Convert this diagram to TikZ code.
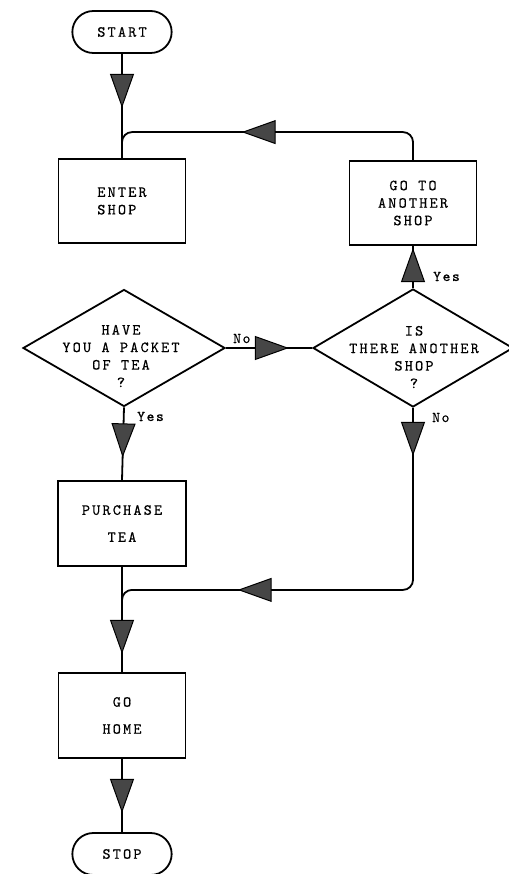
\documentclass[tikz,border=0pt]{standalone}
\usepackage{fontspec}
\usepackage{tikz}
\usetikzlibrary{arrows.meta,shapes.geometric,shapes.misc,decorations.markings}
\newfontfamily\flowfont[LetterSpace=14, FakeBold=0.4]{lmmono10-regular.otf}
\newfontfamily\answerfont[LetterSpace=10, FakeBold=0.4]{lmmono10-regular.otf}
\definecolor{tipgray}{RGB}{70,70,70}
\tikzstyle{flow} = [line width=1.8pt, color=black]
\tikzstyle{terminal} = [rounded rectangle, minimum width=106pt, minimum height=42pt, draw, line width=1.8pt, font=\flowfont\fontsize{15.5}{17.5}\selectfont]
\tikzstyle{process} = [rectangle, minimum width=127pt, minimum height=84pt, draw, line width=1.8pt, align=center, font=\flowfont\fontsize{15.5}{17.5}\selectfont]
\tikzstyle{decision} = [diamond, minimum width=202pt, minimum height=117pt, inner sep=0pt, draw, line width=1.8pt]
\tikzstyle{question} = [align=center, inner sep=0pt, font=\flowfont\fontsize{15.5}{17.5}\selectfont]
\tikzstyle{answer} = [anchor=base west, inner sep=0pt, font=\answerfont\fontsize{15}{15}\selectfont]
\tikzset{tipat/.style={postaction={decorate, decoration={markings, mark=at position #1 with {\arrow{Triangle[length=34pt, width=24pt, fill=tipgray, line width=1pt]}}}}}}

\begin{document}
\begin{tikzpicture}[x=1pt, y=-1pt]
\useasboundingbox (0,0) rectangle (508,874);
% Terminals
\node[terminal] (start) at (122,32) {START};
\node[terminal] (stop) at (122,854) {STOP};

% Boxes
\node[process, align=left] (enter) at (122,201) {ENTER\\SHOP};
\node[process] (goto) at (413,203) {GO TO\\ANOTHER\\SHOP};
\node[process, minimum width=128pt, minimum height=85pt] (purchase) at (122,523.5) {PURCHASE\\[9.5pt]TEA};
\node[process, minimum height=85pt] (gohome) at (122,715.5) {GO\\[9.5pt]HOME};

% Questions
\node[decision] (havetea) at (124,348) {};
\node[question] (haveteatext) at (121,356) {HAVE\\YOU A PACKET\\OF TEA\\?};
\node[decision, minimum width=200pt, minimum height=118pt] (another) at (413,348) {};
\node[question] (anothertext) at (414,357) {IS\\THERE ANOTHER\\SHOP\\?};

% Loops (drawn first, the straight arrows go on top)
\draw[flow, rounded corners=10pt, tipat=195pt] (goto.north) -- ++(0,-28) -| (enter.north);
\draw[flow, rounded corners=10pt, tipat=48pt, tipat=353pt] (another.south) -- ++(0,182) -| (gohome.north);

% Arrows
\draw[flow, tipat=54pt] (start.south) -- (enter.north);
\draw[flow, tipat=50pt] (havetea.south) -- (purchase.north);
\draw[flow, tipat=87pt] (purchase.south) -- (gohome.north);
\draw[flow, tipat=54pt] (gohome.south) -- (stop.north);
\draw[flow, tipat=63pt] (havetea.east) -- (another.west);
\draw[flow, tipat=40pt] (another.north) -- (goto.south);

% Answers
\node[answer] (yes1) at (137,421) {Yes};
\node[answer] (no1) at (233,343) {No};
\node[answer] (yes2) at (433,281) {Yes};
\node[answer] (no2) at (432,422) {No};
\end{tikzpicture}
\end{document}
